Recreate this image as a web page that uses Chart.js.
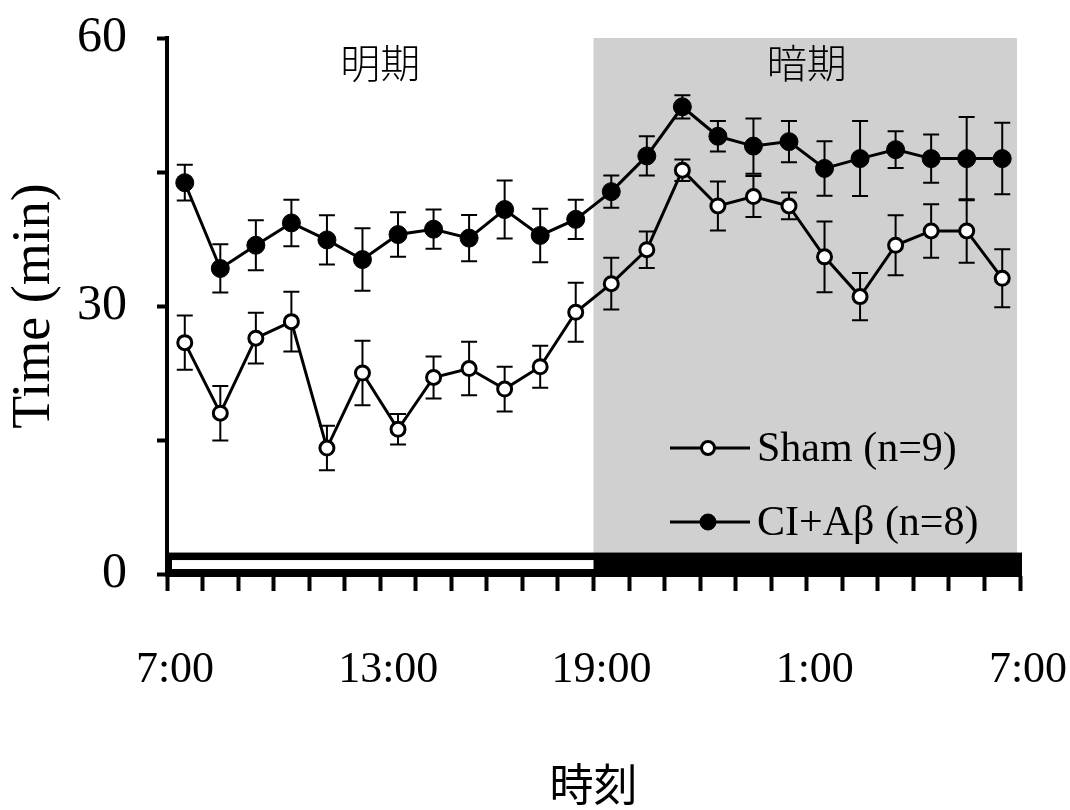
<!DOCTYPE html>
<html>
<head>
<meta charset="utf-8">
<script src="https://cdn.jsdelivr.net/npm/chart.js@4.4.1/dist/chart.umd.min.js"></script>
<style>
html,body{margin:0;padding:0;background:#fff;}
#wrap{width:1070px;height:810px;position:relative;}
</style>
</head>
<body>
<div id="wrap"><canvas id="c"></canvas></div>
<script>
// ---- data (hours after 7:00) ----
const hours = [0.5, 1.5, 2.5, 3.5, 4.5, 5.5, 6.5, 7.5, 8.5, 9.5, 10.5, 11.5,
               12.5, 13.5, 14.5, 15.5, 16.5, 17.5, 18.5, 19.5, 20.5, 21.5, 22.5, 23.5];
const shamMean = [25.9, 18.0, 26.4, 28.25, 14.1, 22.5, 16.2, 22.0, 23.0, 20.7, 23.2, 29.3,
                  32.5, 36.3, 45.2, 41.2, 42.25, 41.2, 35.5, 31.05, 36.8, 38.4, 38.4, 33.1];
const shamErr  = [3.05, 3.05, 2.85, 3.35, 2.5, 3.6, 1.7, 2.35, 3.0, 2.5, 2.35, 3.3,
                  2.9, 2.05, 1.2, 2.75, 2.3, 1.5, 3.95, 2.65, 3.35, 3.0, 3.55, 3.25];
const ciMean   = [43.8, 34.2, 36.8, 39.3, 37.4, 35.2, 38.0, 38.6, 37.6, 40.8, 37.9, 39.7,
                  42.8, 46.8, 52.3, 49.0, 47.9, 48.4, 45.4, 46.5, 47.5, 46.5, 46.5, 46.5];
const ciErr    = [2.0, 2.7, 2.8, 2.6, 2.75, 3.5, 2.5, 2.2, 2.6, 3.25, 3.0, 2.2,
                  1.8, 2.2, 1.3, 1.7, 3.1, 2.3, 3.05, 4.2, 2.05, 2.7, 4.65, 4.0];
const seriesNames = ['Sham (n=9)', 'CI+A\u03b2 (n=8)'];

const xTickHours  = [0, 6, 12, 18, 24];
const xTickLabels = ['7:00', '13:00', '19:00', '1:00', '7:00'];
const yTickValues = [0, 30, 60];
const yTickLabels = ['0', '30', '60'];
const periodLabels  = ['明期', '暗期'];
const periodCenters = [6, 18];
const darkPeriod = [12, 24];
const barTop = 2.4;   // light/dark bar height (in y units)
const xTitle = '時刻';
const yTitle = 'Time (min)';

const SERIF = "'Liberation Serif', 'Times New Roman', serif";
const CJK = "'Noto Sans CJK JP', 'Noto Sans CJK SC', sans-serif";

const pts = (arr) => hours.map((h, i) => ({x: h, y: arr[i]}));

const shadePlugin = {
  id: 'shade',
  beforeDraw(chart) {
    const {ctx, scales: {x, y}} = chart;
    ctx.save();
    ctx.fillStyle = '#fff';
    ctx.fillRect(0, 0, chart.width, chart.height);
    ctx.fillStyle = '#d0d0d0';
    const x0 = x.getPixelForValue(darkPeriod[0]);
    const x1 = x.getPixelForValue(darkPeriod[1]) - 3;
    const y0 = y.getPixelForValue(60);
    const y1 = y.getPixelForValue(0);
    ctx.fillRect(x0, y0, x1 - x0, y1 - y0);
    ctx.restore();
  }
};

const lightBarPlugin = {
  id: 'lightBar',
  beforeDatasetsDraw(chart) {
    const {ctx, scales: {x, y}} = chart;
    const xa = x.getPixelForValue(0), xm = x.getPixelForValue(darkPeriod[0]), xb = x.getPixelForValue(24);
    const yt = y.getPixelForValue(barTop), yb = y.getPixelForValue(0);
    ctx.save();
    ctx.fillStyle = '#000';
    ctx.fillRect(xa - 2, yt, xb - xa + 4, yb - yt + 3);
    ctx.fillStyle = '#fff';
    ctx.fillRect(xa + 5, yt + 7.5, xm - xa - 5, (yb - 5) - (yt + 7.5));
    ctx.restore();
  }
};

const errorBarPlugin = {
  id: 'errorBars',
  beforeDatasetsDraw(chart) {
    const {ctx, scales: {x, y}} = chart;
    const errs = [shamErr, ciErr];
    ctx.save();
    ctx.strokeStyle = '#000';
    ctx.lineWidth = 2;
    chart.data.datasets.forEach((ds, di) => {
      ds.data.forEach((p, i) => {
        const px = x.getPixelForValue(p.x);
        const yh = y.getPixelForValue(p.y + errs[di][i]);
        const yl = y.getPixelForValue(p.y - errs[di][i]);
        ctx.beginPath();
        ctx.moveTo(px, yh); ctx.lineTo(px, yl);
        ctx.moveTo(px - 8, yh); ctx.lineTo(px + 8, yh);
        ctx.moveTo(px - 8, yl); ctx.lineTo(px + 8, yl);
        ctx.stroke();
      });
    });
    ctx.restore();
  }
};

const annotPlugin = {
  id: 'annot',
  afterDraw(chart) {
    const {ctx, scales: {x, y}} = chart;
    ctx.save();
    ctx.fillStyle = '#000';
    ctx.textAlign = 'center';
    ctx.textBaseline = 'middle';
    ctx.font = "300 40px " + CJK;
    periodLabels.forEach((t, i) => {
      ctx.fillText(t, x.getPixelForValue(periodCenters[i]), y.getPixelForValue(60) + 25);
    });
    // legend
    const rows = [448, 522];
    chart.data.datasets.forEach((ds, i) => {
      const ly = rows[i];
      ctx.strokeStyle = '#000';
      ctx.lineWidth = 3;
      ctx.beginPath(); ctx.moveTo(670, ly); ctx.lineTo(750, ly); ctx.stroke();
      ctx.beginPath();
      ctx.arc(708, ly, i === 0 ? 6.5 : 8, 0, Math.PI * 2);
      ctx.fillStyle = ds.pointBackgroundColor;
      ctx.fill();
      ctx.lineWidth = i === 0 ? 3 : 1;
      ctx.stroke();
      ctx.fillStyle = '#000';
      ctx.textAlign = 'left';
      ctx.font = "42px " + SERIF;
      ctx.fillText(seriesNames[i], 757, ly + 2);
    });
    ctx.restore();
  }
};

new Chart(document.getElementById('c'), {
  type: 'line',
  data: {
    datasets: [
      {
        label: seriesNames[0], data: pts(shamMean),
        borderColor: '#000', borderWidth: 3,
        pointRadius: 7, pointBorderWidth: 3,
        pointBackgroundColor: '#fff', pointBorderColor: '#000',
        tension: 0, fill: false
      },
      {
        label: seriesNames[1], data: pts(ciMean),
        borderColor: '#000', borderWidth: 3,
        pointRadius: 9, pointBorderWidth: 1,
        pointBackgroundColor: '#000', pointBorderColor: '#000',
        tension: 0, fill: false
      }
    ]
  },
  options: {
    responsive: true,
    maintainAspectRatio: false,
    animation: false,
    devicePixelRatio: 1,
    layout: {padding: {left: 0, right: 50, top: 38, bottom: 0}},
    plugins: {legend: {display: false}, tooltip: {enabled: false}},
    scales: {
      x: {
        type: 'linear', min: 0, max: 24,
        ticks: {
          stepSize: 1, autoSkip: false, maxRotation: 0, minRotation: 0,
          padding: 8, labelOffset: 8, color: '#000',
          font: {family: SERIF, size: 44, lineHeight: 3.25},
          callback: (v) => { const i = xTickHours.indexOf(v); return i >= 0 ? xTickLabels[i] : ''; }
        },
        grid: {drawOnChartArea: false, drawTicks: true, tickLength: 17, tickWidth: 4, tickColor: '#000'},
        border: {display: true, color: '#000', width: 4},
        title: {display: true, text: xTitle, color: '#000',
                font: {family: CJK, size: 44, lineHeight: 1.15}, padding: {top: 0, bottom: 0}},
        afterFit: (s) => { s.height = 236; }
      },
      y: {
        min: 0, max: 60,
        ticks: {
          stepSize: 15, padding: 30, color: '#000',
          font: {family: SERIF, size: 50, lineHeight: 0.3},
          callback: (v) => { const i = yTickValues.indexOf(v); return i >= 0 ? yTickLabels[i] : ''; }
        },
        grid: {drawOnChartArea: false, drawTicks: true, tickLength: 10, tickWidth: 4, tickColor: '#000'},
        border: {display: true, color: '#000', width: 4},
        title: {display: true, text: yTitle, color: '#000',
                font: {family: SERIF, size: 54, lineHeight: 1}, padding: {top: 8, bottom: 0}},
        afterFit: (s) => { s.width = 167; }
      }
    }
  },
  plugins: [shadePlugin, lightBarPlugin, errorBarPlugin, annotPlugin]
});
</script>
</body>
</html>
